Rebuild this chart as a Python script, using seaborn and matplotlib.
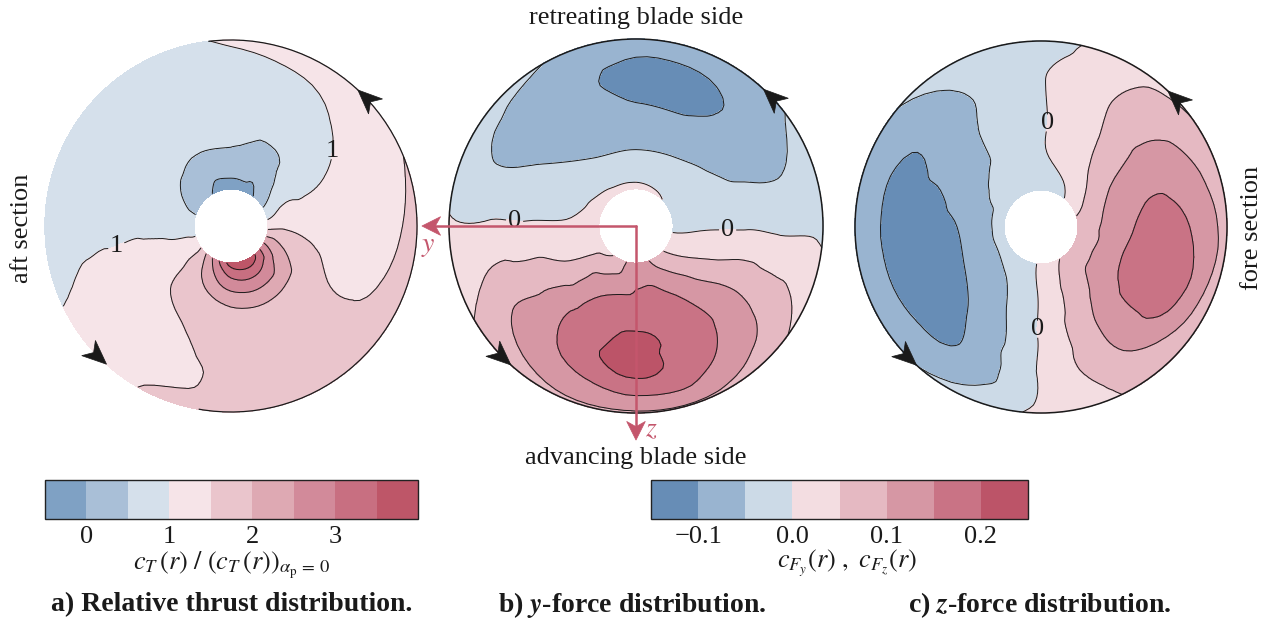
import numpy as np
import matplotlib
matplotlib.use("Agg")
import matplotlib.pyplot as plt
import matplotlib.tri as mtri
from matplotlib.colors import ListedColormap, BoundaryNorm
from matplotlib.cm import ScalarMappable
from matplotlib.patches import Circle, Arc, Polygon
import seaborn as sns

# azimuth of the sampled nodes (deg, 0 = right, counter-clockwise)
ANGLES = [0, 30, 60, 90, 120, 150, 180, 210, 240, 270, 300, 330]

# a) relative thrust, one row per radius (r/R)
RADII_A = [0.2, 0.3, 0.45, 0.6, 0.8, 1.0]
THRUST = [
    [1.3, 0.5, -0.1, -0.3, 0.0, 0.35, 0.75, 1.3, 2.5, 3.7, 3.8, 2.6],
    [1.4, 0.85, 0.1, 0.2, 0.2, 0.5, 0.8, 1.3, 2.05, 2.85, 2.95, 2.2],
    [1.3, 0.9, 0.45, 0.55, 0.55, 0.75, 0.9, 1.3, 1.7, 1.95, 2.0, 1.75],
    [1.25, 1.0, 0.8, 0.75, 0.75, 0.75, 0.9, 1.25, 1.45, 1.75, 1.8, 1.5],
    [1.35, 1.2, 0.9, 0.8, 0.75, 0.75, 0.85, 1.2, 1.3, 1.6, 1.7, 1.5],
    [1.6, 1.45, 1.2, 1.05, 0.8, 0.75, 0.8, 1.05, 1.5, 1.7, 1.75, 1.65],
]
LEVELS_A = [-0.5, 0.0, 0.5, 1.0, 1.5, 2.0, 2.5, 3.0, 3.5, 4.0]
TICKS_A = [0, 1, 2, 3]

# b) y-force and c) z-force
RADII_F = [0.2, 0.4, 0.6, 0.8, 1.0]
FORCE_Y = [
    [-0.01, -0.005, 0.005, 0.01, 0.01, 0.01, 0.01, 0.03, 0.06, 0.13, 0.08, 0.03],
    [-0.005, -0.03, -0.045, -0.048, -0.045, -0.02, 0.005, 0.055, 0.14, 0.16, 0.145, 0.06],
    [-0.005, -0.06, -0.09, -0.09, -0.08, -0.045, 0.005, 0.085, 0.17, 0.205, 0.17, 0.09],
    [-0.01, -0.07, -0.105, -0.115, -0.08, -0.06, 0.005, 0.09, 0.15, 0.205, 0.155, 0.08],
    [-0.01, -0.04, -0.08, -0.08, -0.05, -0.03, 0.005, 0.05, 0.09, 0.095, 0.09, 0.04],
]
FORCE_Z = [
    [0.07, 0.03, -0.01, -0.02, -0.03, -0.03, -0.03, -0.035, -0.03, 0.01, 0.05, 0.06],
    [0.12, 0.095, 0.03, -0.005, -0.04, -0.06, -0.09, -0.085, -0.055, 0.005, 0.08, 0.13],
    [0.17, 0.12, 0.045, -0.005, -0.045, -0.09, -0.12, -0.12, -0.08, 0.005, 0.1, 0.17],
    [0.15, 0.11, 0.05, -0.003, -0.052, -0.1, -0.11, -0.11, -0.09, 0.005, 0.09, 0.16],
    [0.08, 0.055, 0.03, -0.02, -0.04, -0.055, -0.07, -0.06, -0.04, 0.01, 0.055, 0.07],
]
LEVELS_F = [-0.15, -0.1, -0.05, 0.0, 0.05, 0.1, 0.15, 0.2, 0.25]
TICKS_F = [-0.1, 0.0, 0.1, 0.2]
TICK_LABELS_F = ["\u22120.1", "0.0", "0.1", "0.2"]

COLORS_A = ["#7FA1C4", "#A9BFD7", "#D5E0EB", "#F6E4E8", "#EAC5CC",
            "#DEA9B3", "#D28A9A", "#C86F81", "#BE5668"]
COLORS_F = ["#678DB6", "#99B4D0", "#CCDAE7", "#F3DDE1", "#E5B9C2",
            "#D697A4", "#C97385", "#BC5468"]
RED = "#C4566C"

W, H = 1270, 620
FS = 19


def px_box(cx, cy, r):
    return [(cx - r) / W, 1 - (cy + r) / H, 2 * r / W, 2 * r / H]


def fx(x):
    return x / W


def fy(y):
    return 1 - y / H


def refined_disk(radii, values):
    ang = np.array(ANGLES, float)
    vals = np.asarray(values, float)
    # wrap columns around so the fit is periodic in azimuth
    ang_p = np.r_[ang[-3:] - 360, ang, ang[:4] + 360]
    vals_p = np.hstack([vals[:, -3:], vals, vals[:, :4]])
    T, R = np.meshgrid(np.deg2rad(ang_p), radii)
    nr, nt = T.shape
    tris = []
    for i in range(nr - 1):
        for j in range(nt - 1):
            a = i * nt + j
            tris += [[a, a + 1, a + nt + 1], [a, a + nt + 1, a + nt]]
    tri = mtri.Triangulation(T.ravel(), R.ravel(), np.array(tris))
    z = vals_p.ravel()
    interp = mtri.CubicTriInterpolator(tri, z, kind="geom")
    fine, zf = mtri.UniformTriRefiner(tri).refine_field(z, triinterpolator=interp, subdiv=3)
    cent = fine.x[fine.triangles].mean(axis=1)
    mask = (cent < 0) | (cent > 2 * np.pi)
    xy = mtri.Triangulation(fine.y * np.cos(fine.x), fine.y * np.sin(fine.x),
                            fine.triangles, mask=mask)
    return xy, zf


def draw_disk(ax, radii, values, levels, colors, label_level, label_pos):
    tri, z = refined_disk(radii, values)
    z = np.clip(z, levels[0] + 1e-6, levels[-1] - 1e-6)
    cf = ax.tricontourf(tri, z, levels=levels, colors=colors)
    cf.set_edgecolor("face")
    cf.set_linewidth(0.4)
    other = [lv for lv in levels[1:-1] if abs(lv - label_level) > 1e-9]
    ax.tricontour(tri, z, levels=other, colors="k", linewidths=0.7, linestyles="solid")
    cl = ax.tricontour(tri, z, levels=[label_level], colors="k", linewidths=0.7,
                       linestyles="solid")
    labels = ax.clabel(cl, manual=label_pos, fmt="%g", fontsize=FS,
                       inline=True, inline_spacing=2)
    for t in labels:
        t.set_rotation(0)
        t.set_color("k")


def stealth(ax, tip, d, length, width, color, z=6):
    d = np.asarray(d, float) / np.hypot(*d)
    n = np.array([-d[1], d[0]])
    tip = np.asarray(tip, float)
    pts = [tip, tip - length * d + width * n, tip - 0.72 * length * d,
           tip - length * d - width * n]
    ax.add_patch(Polygon(pts, closed=True, fc=color, ec=color, lw=0.5,
                         zorder=z, clip_on=False))


def rot_arrow(ax, deg):
    t = np.deg2rad(deg)
    stealth(ax, (np.cos(t), np.sin(t)), (-np.sin(t), np.cos(t)), 0.13, 0.055, "k")


def disk_axes(fig, cx, cy, r):
    pad = 1.25
    ax = fig.add_axes(px_box(cx, cy, r * pad))
    ax.set_xlim(-pad, pad)
    ax.set_ylim(-pad, pad)
    ax.set_axis_off()
    ax.patch.set_visible(False)
    return ax


def add_colorbar(fig, box, levels, colors, ticks, ticklabels=None):
    cax = fig.add_axes(box)
    sm = ScalarMappable(norm=BoundaryNorm(levels, len(colors)),
                        cmap=ListedColormap(sns.color_palette(colors)))
    cb = fig.colorbar(sm, cax=cax, orientation="horizontal", ticks=ticks)
    cb.minorticks_off()
    cb.outline.set_linewidth(1.0)
    cb.outline.set_edgecolor("#222222")
    cax.tick_params(labelsize=FS, length=4, width=0.8, direction="in", pad=5,
                    colors="k")
    if ticklabels is not None:
        cb.set_ticklabels(ticklabels)
    return cb


def main():
    sns.set_theme(style="white")
    plt.rcParams["font.family"] = ["Liberation Serif", "DejaVu Serif"]
    plt.rcParams["mathtext.fontset"] = "stix"
    plt.rcParams["axes.unicode_minus"] = True
    plt.rcParams["text.color"] = "k"

    fig = plt.figure(figsize=(12.7, 6.2), dpi=100)

    # a) relative thrust
    ax_a = disk_axes(fig, 231, 226, 186)
    draw_disk(ax_a, RADII_A, THRUST, LEVELS_A, COLORS_A, 1.0,
              [(0.60, 0.40), (-0.61, -0.12)])
    ax_a.add_patch(Arc((0, 0), 2, 2, theta1=-100, theta2=97, lw=0.9, color="k"))
    rot_arrow(ax_a, 47)
    rot_arrow(ax_a, 228)

    # b) y-force
    ax_b = disk_axes(fig, 636, 226, 187)
    draw_disk(ax_b, RADII_F, FORCE_Y, LEVELS_F, COLORS_F, 0.0,
              [(-0.65, 0.02), (0.49, -0.02)])
    ax_b.add_patch(Circle((0, 0), 1, fill=False, lw=1.1, ec="k"))
    rot_arrow(ax_b, 47)
    rot_arrow(ax_b, 228)
    ax_b.plot([0, -1.08], [0, 0], color=RED, lw=1.8, zorder=5, clip_on=False)
    ax_b.plot([0, 0], [0, -1.08], color=RED, lw=1.8, zorder=5, clip_on=False)
    stealth(ax_b, (-1.145, 0), (-1, 0), 0.1, 0.05, RED)
    stealth(ax_b, (0, -1.145), (0, -1), 0.1, 0.05, RED)
    ax_b.text(-1.11, -0.11, "$y$", color=RED, fontsize=FS + 1, ha="center", va="center")
    ax_b.text(0.08, -1.09, "$z$", color=RED, fontsize=FS + 1, ha="center", va="center")

    # c) z-force
    ax_c = disk_axes(fig, 1041, 227, 186)
    draw_disk(ax_c, RADII_F, FORCE_Z, LEVELS_F, COLORS_F, 0.0,
              [(0.02, 0.56), (-0.03, -0.55)])
    ax_c.add_patch(Circle((0, 0), 1, fill=False, lw=1.1, ec="k"))
    rot_arrow(ax_c, 47)
    rot_arrow(ax_c, 228)

    # colour bars
    add_colorbar(fig, [fx(45), fy(519), 373 / W, 39 / H], LEVELS_A, COLORS_A, TICKS_A)
    add_colorbar(fig, [fx(651), fy(519), 377 / W, 39 / H], LEVELS_F, COLORS_F,
                 TICKS_F, TICK_LABELS_F)

    txt = dict(fontsize=FS, ha="center", va="center")
    fig.text(fx(636), fy(18), "retreating blade side", **txt)
    fig.text(fx(636), fy(458), "advancing blade side", **txt)
    fig.text(fx(22), fy(228), "aft section", rotation=90, **txt)
    fig.text(fx(1252), fy(228), "fore section", rotation=90, **txt)
    fig.text(fx(232), fy(565),
             r"$c_T\,(r)\ /\ (c_T\,(r))_{\alpha_\mathrm{p}\,=\,0}$", **txt)
    fig.text(fx(847), fy(563), r"$c_{F_y}(r)\ ,\ c_{F_z}(r)$", **txt)

    cap = dict(fontsize=FS + 1, ha="center", va="center", fontweight="bold")
    fig.text(fx(232), fy(605), "a) Relative thrust distribution.", **cap)
    fig.text(fx(632), fy(605), r"b) $\mathbfit{y}$-force distribution.", **cap)
    fig.text(fx(1040), fy(605), r"c) $\mathbfit{z}$-force distribution.", **cap)

    fig.savefig("out.png", dpi=100)


if __name__ == "__main__":
    main()
